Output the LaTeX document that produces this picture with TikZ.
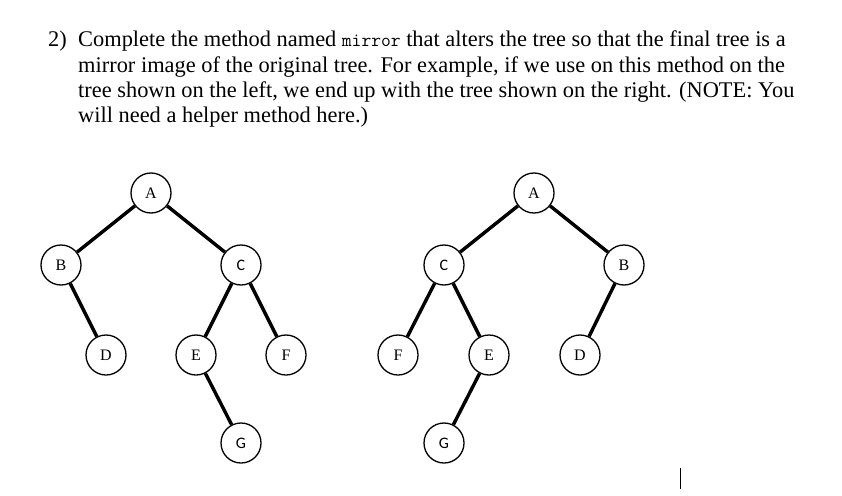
\documentclass[tikz,border=0pt]{standalone}
\usepackage{fontspec}
\setmainfont{Liberation Serif}
\newfontfamily\sanslbl{Carlito}
\begin{document}
\begin{tikzpicture}[x=1pt,y=-1pt,
  nd/.style={circle,draw,line width=1.3pt,minimum size=40pt,inner sep=0pt,font=\fontsize{16}{18}\selectfont},
  sn/.style={nd,font=\sanslbl\fontsize{16}{18}\selectfont},
  ed/.style={line width=3.4pt},
  txt/.style={anchor=base west,inner sep=0pt,font=\fontsize{22.4}{26}\selectfont}]
\useasboundingbox (0,0) rectangle (842,495);
\node[txt] (n2) at (48,47) {2)};
\node[txt] (l1) at (78,47) {Complete the method named \texttt{\fontsize{19}{22}\selectfont mirror} that alters the tree so that the final tree is a};
\node[txt] (l2) at (78,72) {mirror image of the original tree. For example, if we use on this method on the};
\node[txt] (l3) at (78,97) {tree shown on the left, we end up with the tree shown on the right. (NOTE: You};
\node[txt] (l4) at (78,122) {will need a helper method here.)};
% left tree
\node[nd] (A1) at (151,193) {A};
\node[nd] (B1) at (61,265) {B};
\node[sn] (C1) at (241,265) {C};
\node[nd] (D1) at (106,355) {D};
\node[nd] (E1) at (196,355) {E};
\node[nd] (F1) at (286,355) {F};
\node[sn] (G1) at (241,443) {G};
\draw[ed] (A1)--(B1); \draw[ed] (A1)--(C1); \draw[ed] (B1)--(D1);
\draw[ed] (C1)--(E1); \draw[ed] (C1)--(F1); \draw[ed] (E1)--(G1);
% right tree
\node[nd] (A2) at (534,193) {A};
\node[sn] (C2) at (444,265) {C};
\node[nd] (B2) at (624,265) {B};
\node[nd] (F2) at (398,355) {F};
\node[nd] (E2) at (489,355) {E};
\node[nd] (D2) at (580,355) {D};
\node[sn] (G2) at (444,443) {G};
\draw[ed] (A2)--(C2); \draw[ed] (A2)--(B2); \draw[ed] (B2)--(D2);
\draw[ed] (C2)--(F2); \draw[ed] (C2)--(E2); \draw[ed] (E2)--(G2);
\coordinate (cu1) at (680,468); \coordinate (cu2) at (680,489);
\draw[line width=1pt] (cu1)--(cu2);
\end{tikzpicture}
\end{document}
